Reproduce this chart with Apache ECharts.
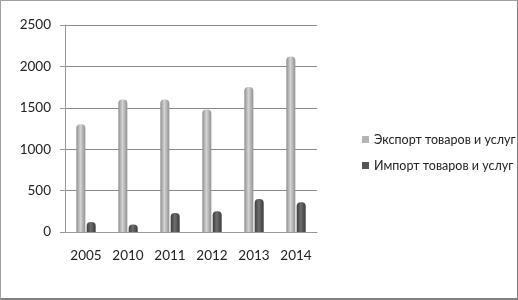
<!DOCTYPE html>
<html>
<head>
<meta charset="utf-8">
<script src="https://cdn.jsdelivr.net/npm/echarts@6/dist/echarts.min.js"></script>
<style>
  html, body { margin: 0; padding: 0; background: #fff; }
  #chart {
    width: 516px;
    height: 297px;
    border: 1px solid #a0a0a0;
    border-right-color: #808080;
    border-bottom: 2px solid #808080;
  }
</style>
</head>
<body>
<div id="chart"></div>
<script>
const years = ["2005", "2010", "2011", "2012", "2013", "2014"];
const exportValues = [1300, 1600, 1600, 1480, 1750, 2120];
const importValues = [120, 90, 230, 250, 400, 360];
const yTicks = [0, 500, 1000, 1500, 2000, 2500];

const chart = echarts.init(document.getElementById("chart"));

// cylinder-ish shading, light in the middle
const lightGrey = new echarts.graphic.LinearGradient(0, 0, 1, 0, [
  { offset: 0, color: "#8e8e8e" },
  { offset: 0.45, color: "#d4d4d4" },
  { offset: 1, color: "#909090" },
]);
const darkGrey = new echarts.graphic.LinearGradient(0, 0, 1, 0, [
  { offset: 0, color: "#3c3c3c" },
  { offset: 0.45, color: "#6e6e6e" },
  { offset: 1, color: "#3a3a3a" },
]);

const option = {
  animation: false,
  textStyle: { fontFamily: "Lato", color: "#222" },
  grid: {
    left: 64,
    right: 200,
    top: 24,
    bottom: 66,
  },
  legend: {
    orient: "vertical",
    left: 356,
    top: 127,
    itemWidth: 7,
    itemHeight: 7,
    itemGap: 13,
    icon: "rect",
    textStyle: { fontSize: 12.5, color: "#222", fontFamily: "Lato" },
    data: [
      { name: "Экспорт товаров и услуг", itemStyle: { color: "#b4b4b4" } },
      { name: "Импорт товаров и услуг", itemStyle: { color: "#555" } },
    ],
  },
  xAxis: {
    type: "category",
    data: years,
    axisTick: { show: false },
    axisLine: { show: true, lineStyle: { color: "#999" } },
    axisLabel: { fontSize: 13.5, color: "#222", margin: 17 },
  },
  yAxis: {
    type: "value",
    min: yTicks[0],
    max: yTicks[yTicks.length - 1],
    interval: 500,
    axisLine: { show: true, lineStyle: { color: "#999" } },
    axisTick: { show: true, length: 5, lineStyle: { color: "#999" } },
    axisLabel: {
      fontSize: 13.5,
      color: "#222",
      margin: 14,
      formatter: (v) => String(v),
    },
    splitLine: { lineStyle: { color: "#8a8a8a", width: 1 } },
  },
  series: [
    {
      name: "Экспорт товаров и услуг",
      type: "bar",
      data: exportValues,
      barWidth: 9,
      barGap: "15%",
      itemStyle: { color: lightGrey, borderRadius: [4, 4, 0, 0] },
    },
    {
      name: "Импорт товаров и услуг",
      type: "bar",
      data: importValues,
      barWidth: 9,
      itemStyle: { color: darkGrey, borderRadius: [4, 4, 0, 0] },
    },
  ],
};

chart.setOption(option);
</script>
</body>
</html>
